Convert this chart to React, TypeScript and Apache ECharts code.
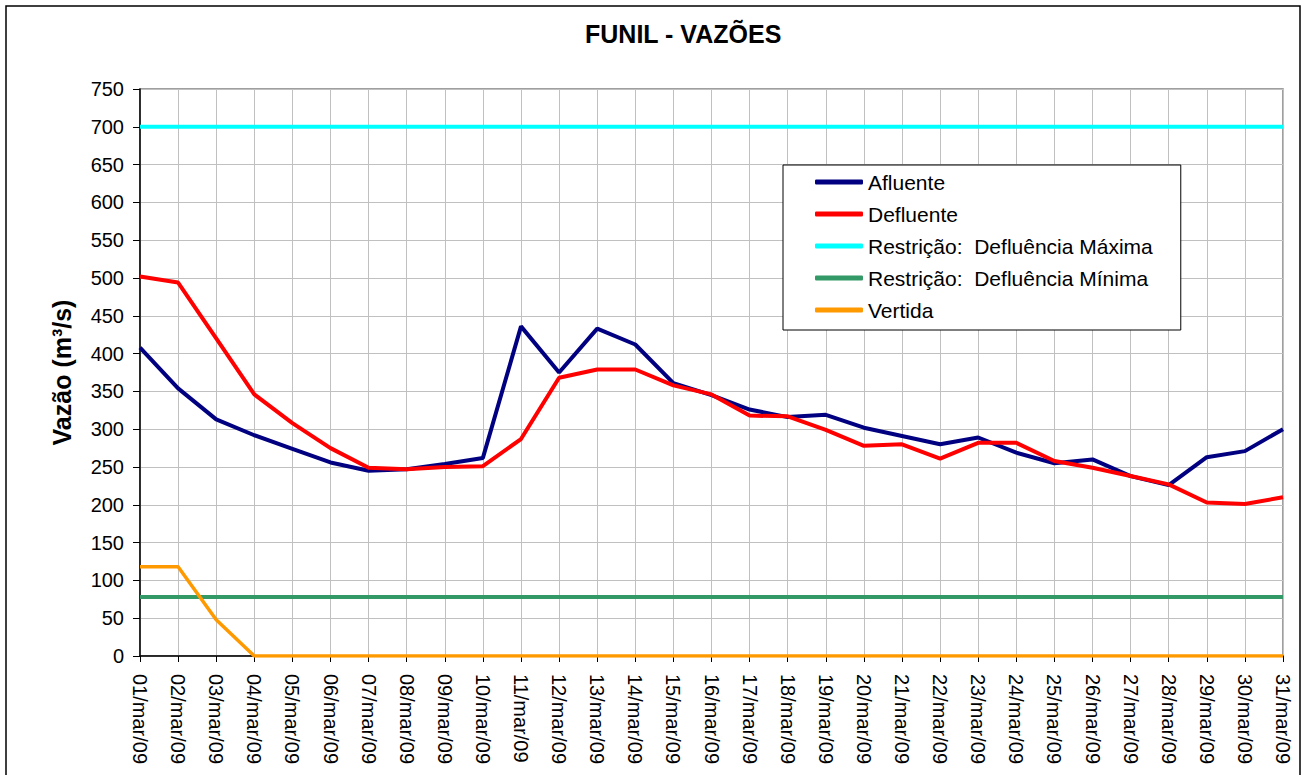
import React, { useEffect, useRef } from "react";
import * as echarts from "echarts";

const FONT = "'Liberation Sans', Arial, Helvetica, sans-serif";

const categories = [
  "01/mar/09", "02/mar/09", "03/mar/09", "04/mar/09", "05/mar/09", "06/mar/09",
  "07/mar/09", "08/mar/09", "09/mar/09", "10/mar/09", "11/mar/09", "12/mar/09",
  "13/mar/09", "14/mar/09", "15/mar/09", "16/mar/09", "17/mar/09", "18/mar/09",
  "19/mar/09", "20/mar/09", "21/mar/09", "22/mar/09", "23/mar/09", "24/mar/09",
  "25/mar/09", "26/mar/09", "27/mar/09", "28/mar/09", "29/mar/09", "30/mar/09",
  "31/mar/09",
];

const afluente = [
  408, 354, 313, 292, 274, 256, 245, 247, 254, 262, 436, 375, 433, 412, 361, 345,
  326, 316, 319, 302, 291, 280, 289, 269, 255, 260, 238, 226, 263, 271, 300,
];

const defluente = [
  502, 494, 420, 346, 308, 275, 249, 247, 250, 251, 287, 368, 379, 379, 358, 346,
  318, 317, 299, 278, 280, 261, 282, 282, 258, 249, 238, 227, 203, 201, 210,
];

const defluenciaMaxima = [
  700, 700, 700, 700, 700, 700, 700, 700, 700, 700, 700, 700, 700, 700, 700, 700,
  700, 700, 700, 700, 700, 700, 700, 700, 700, 700, 700, 700, 700, 700, 700,
];

const defluenciaMinima = [
  78, 78, 78, 78, 78, 78, 78, 78, 78, 78, 78, 78, 78, 78, 78, 78,
  78, 78, 78, 78, 78, 78, 78, 78, 78, 78, 78, 78, 78, 78, 78,
];

const vertida = [
  118, 118, 48, 0, 0, 0, 0, 0, 0, 0, 0, 0, 0, 0, 0, 0,
  0, 0, 0, 0, 0, 0, 0, 0, 0, 0, 0, 0, 0, 0, 0,
];

const seriesNames = [
  "Afluente",
  "Defluente",
  "Restrição:  Defluência Máxima",
  "Restrição:  Defluência Mínima",
  "Vertida",
];

export default function App() {
  const ref = useRef<HTMLDivElement>(null);

  useEffect(() => {
    if (!ref.current) return;
    const chart = echarts.init(ref.current, undefined, { renderer: "svg" });

    const mk = (name: string, data: number[], color: string, width: number) => ({
      name,
      type: "line",
      data,
      color,
      symbol: "none",
      showSymbol: false,
      lineStyle: { color, width },
    });

    chart.setOption({
      animation: false,
      backgroundColor: "#ffffff",
      textStyle: { fontFamily: FONT },
      title: {
        text: "FUNIL - VAZÕES",
        left: 580,
        top: 16,
        textStyle: { fontSize: 25, fontWeight: "bold", color: "#000", fontFamily: FONT },
      },
      graphic: [
        {
          type: "rect",
          shape: { x: 6, y: 6, width: 1294, height: 775 },
          style: { fill: "none", stroke: "#000", lineWidth: 1.5 },
          silent: true,
        },
      ],
      legend: {
        orient: "vertical",
        left: 783,
        top: 165,
        padding: [6, 28, 9, 32],
        itemGap: 10,
        itemWidth: 48,
        itemHeight: 5,
        icon: "roundRect",
        borderColor: "#000",
        borderWidth: 1,
        backgroundColor: "#fff",
        data: seriesNames,
        textStyle: { fontSize: 21, color: "#000", fontFamily: FONT, lineHeight: 22 },
      },
      grid: {
        left: 140,
        top: 89,
        right: 21,
        bottom: 119,
        show: true,
        borderColor: "#808080",
        borderWidth: 1.5,
        backgroundColor: "transparent",
      },
      xAxis: {
        type: "category",
        data: categories,
        boundaryGap: false,
        axisLine: { show: true, lineStyle: { color: "#000", width: 1.5 } },
        axisTick: { show: true, length: 6, inside: false, lineStyle: { color: "#000" } },
        axisLabel: {
          interval: 0,
          rotate: -90,
          fontSize: 20,
          margin: 18,
          color: "#000",
          fontFamily: FONT,
        },
        splitLine: { show: true, lineStyle: { color: "#c0c0c0", width: 1 } },
      },
      yAxis: {
        type: "value",
        min: 0,
        max: 750,
        interval: 50,
        name: "Vazão (m³/s)",
        nameLocation: "middle",
        nameGap: 66,
        nameTextStyle: { fontSize: 25, fontWeight: "bold", color: "#000", fontFamily: FONT },
        axisLine: { show: true, lineStyle: { color: "#000", width: 1.5 } },
        axisTick: { show: true, length: 7, inside: false, lineStyle: { color: "#000" } },
        axisLabel: { fontSize: 20, margin: 16, color: "#000", fontFamily: FONT },
        splitLine: { show: true, lineStyle: { color: "#c0c0c0", width: 1 } },
      },
      series: [
        mk(seriesNames[0], afluente, "#000080", 4),
        mk(seriesNames[1], defluente, "#ff0000", 4),
        mk(seriesNames[2], defluenciaMaxima, "#00ffff", 4),
        mk(seriesNames[3], defluenciaMinima, "#339966", 4),
        mk(seriesNames[4], vertida, "#ff9900", 3.5),
      ],
    });

    return () => chart.dispose();
  }, []);

  return (
    <div
      ref={ref}
      style={{ position: "fixed", left: 0, top: 0, width: 1304, height: 775, background: "#fff" }}
    />
  );
}
